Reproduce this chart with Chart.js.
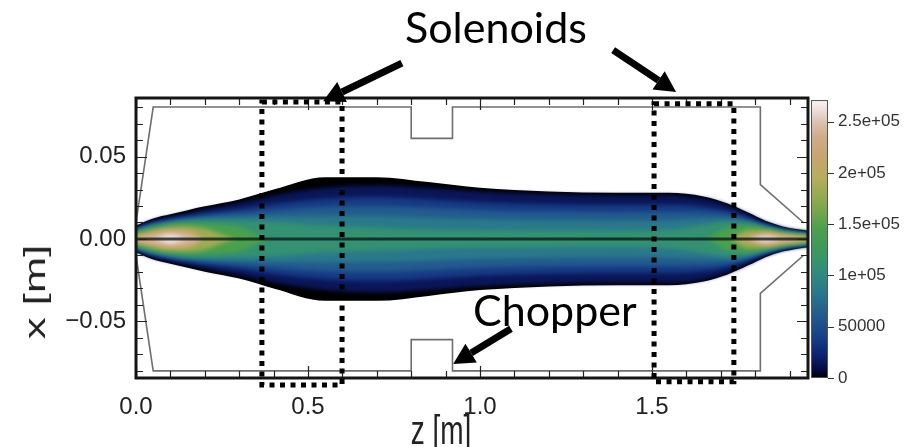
<!DOCTYPE html>
<html>
<head>
<meta charset="utf-8">
<script src="https://cdn.jsdelivr.net/npm/chart.js@4.4.1/dist/chart.umd.min.js"></script>
<style>
    html, body { margin: 0; padding: 0; background: #fff; }
    #wrap { position: relative; width: 911px; height: 447px; overflow: hidden; }
    #myChart { position: absolute; left: 0; top: 0; }
    .note { position: absolute; font-family: Lato, 'Open Sans', sans-serif; color: #000; white-space: nowrap; line-height: 1; }
    .axis-title { position: absolute; font-family: 'Liberation Sans', Arial, sans-serif; color: #222; white-space: nowrap; line-height: 1; }
</style>
</head>
<body>
<div id="wrap">
    <canvas id="myChart" width="911" height="447"></canvas>
    <div class="note" style="left:405px; top:5px; font-size:43px">Solenoids</div>
    <div class="note" style="left:473px; top:288px; font-size:43px">Chopper</div>
    <div class="axis-title" style="left:441px; top:431px; font-size:28px; transform: translate(-50%, -50%) scaleY(1.45)">z [m]</div>
    <div class="axis-title" style="left:35px; top:292px; font-size:30px; transform: translate(-50%, -50%) rotate(-90deg) scaleX(1.45)">x [m]</div>
</div>
<script>
// beam envelope: z [m] and half widths x [m] of each density contour
const zGrid = [0, 0.05, 0.1, 0.15, 0.2, 0.3, 0.4, 0.55, 0.7, 0.85, 1.0, 1.2, 1.4, 1.55, 1.65, 1.72, 1.78, 1.83, 1.88, 1.92, 1.953]
const haloWidth = [0.0082, 0.0125, 0.0150, 0.0175, 0.0198, 0.0240, 0.0300, 0.0375, 0.0375, 0.0345, 0.0310, 0.0288, 0.0280, 0.0280, 0.0258, 0.0215, 0.0160, 0.0110, 0.0076, 0.0060, 0.0052]
const w5k = [0.0072, 0.0112, 0.0136, 0.0158, 0.0180, 0.0218, 0.0262, 0.0310, 0.0325, 0.0310, 0.0287, 0.0272, 0.0266, 0.0265, 0.0245, 0.0205, 0.0150, 0.0100, 0.0066, 0.0050, 0.0042]
const w25k = [0.0063, 0.0099, 0.0121, 0.0140, 0.0156, 0.0182, 0.0212, 0.0244, 0.0254, 0.0241, 0.0223, 0.0211, 0.0207, 0.0207, 0.0196, 0.0171, 0.0130, 0.0089, 0.0059, 0.0044, 0.0037]
const w50k = [0.0057, 0.0091, 0.0112, 0.0128, 0.0140, 0.0157, 0.0175, 0.0195, 0.0200, 0.0189, 0.0175, 0.0166, 0.0162, 0.0163, 0.0160, 0.0148, 0.0117, 0.0082, 0.0054, 0.0040, 0.0033]
const w75k = [0.0051, 0.0083, 0.0103, 0.0117, 0.0125, 0.0133, 0.0138, 0.0141, 0.0140, 0.0130, 0.0120, 0.0114, 0.0111, 0.0114, 0.0122, 0.0125, 0.0105, 0.0075, 0.0049, 0.0037, 0.0030]
const w95k = [0.0047, 0.0077, 0.0096, 0.0108, 0.0113, 0.0112, 0.0103, 0.0082, 0.0070, 0.0057, 0.0053, 0.0050, 0.0049, 0.0057, 0.0085, 0.0105, 0.0095, 0.0070, 0.0046, 0.0034, 0.0027]
const w125k = [0.0040, 0.0068, 0.0086, 0.0095, 0.0093, 0.0074, 0, 0, 0, 0, 0, 0, 0, 0, 0, 0.0069, 0.0080, 0.0062, 0.0040, 0.0029, 0.0023]
const w165k = [0.0029, 0.0055, 0.0072, 0.0076, 0.0063, 0, 0, 0, 0, 0, 0, 0, 0, 0, 0, 0, 0.0055, 0.0052, 0.0033, 0.0023, 0.0017]
const w200k = [0.0016, 0.0042, 0.0057, 0.0056, 0, 0, 0, 0, 0, 0, 0, 0, 0, 0, 0, 0, 0.0019, 0.0041, 0.0025, 0.0016, 0.0009]
const w230k = [0, 0.0026, 0.0042, 0.0032, 0, 0, 0, 0, 0, 0, 0, 0, 0, 0, 0, 0, 0, 0.0029, 0.0015, 0.0006, 0]
const w255k = [0, 0, 0.0025, 0, 0, 0, 0, 0, 0, 0, 0, 0, 0, 0, 0, 0, 0, 0.0013, 0, 0, 0]
const contourLevels = [5000, 25000, 50000, 75000, 95000, 125000, 165000, 200000, 230000, 255000]
const contourWidths = [w5k, w25k, w50k, w75k, w95k, w125k, w165k, w200k, w230k, w255k]

// beam pipe outline (upper half, mirrored below)
const apertureZ = [0, 0.05, 0.80, 0.80, 0.92, 0.92, 1.815, 1.815, 1.94]
const apertureX = [0.010, 0.080, 0.080, 0.061, 0.061, 0.080, 0.080, 0.033, 0.010]

// axes
const zMax = 1.9535
const xMin = -0.0843
const xMax = 0.0855
const cbMax = 271000
const cbTickValues = [0, 50000, 100000, 150000, 200000, 250000]
const cbTickLabels = ['0', '50000', '1e+05', '1.5e+05', '2e+05', '2.5e+05']

// colour map of the colour bar
const cmapValues = [0, 8000, 20000, 40000, 60000, 80000, 100000, 120000, 145000, 170000, 195000, 215000, 235000, 250000, 262000, 271000]
const cmapColors = ['#000000', '#060a3c', '#0c1f6e', '#183f88', '#21598e', '#29738e', '#2e8a80', '#399863', '#4aa04c', '#86a94c', '#b6ae5c', '#c6a56e', '#cfab88', '#dcc3b4', '#efe0dc', '#fbf5f5']

// annotations (z, x)
const solenoidZ = [[0.366, 0.599], [1.506, 1.738]]
const solenoidX = [[0.083, -0.0885], [0.082, -0.0865]]
const arrowFrom = [[0.773, 0.1067], [1.387, 0.1145], [1.090, -0.0545]]
const arrowTo = [[0.544, 0.0836], [1.570, 0.0891], [0.922, -0.0758]]

const tickFont = "'Liberation Sans', Arial, sans-serif"

const hexToRgb = (h) => [1, 3, 5].map((i) => parseInt(h.substr(i, 2), 16))
const cmap = (v) => {
    let i = 0
    while (i < cmapValues.length - 2 && v > cmapValues[i + 1]) i++
    const t = Math.min(1, Math.max(0, (v - cmapValues[i]) / (cmapValues[i + 1] - cmapValues[i])))
    const a = hexToRgb(cmapColors[i])
    const b = hexToRgb(cmapColors[i + 1])
    return `rgb(${a.map((c, k) => Math.round(c + (b[k] - c) * t)).join(',')})`
}

const datasets = []
const addBand = (widths, color, order, blur) => {
    const lowerIndex = datasets.length + 1
    const common = { borderWidth: 0, pointRadius: 0, order: order, blur: blur, cubicInterpolationMode: 'monotone' }
    datasets.push({ ...common, data: zGrid.map((z, i) => ({ x: z, y: widths[i] })), fill: lowerIndex, backgroundColor: color })
    datasets.push({ ...common, data: zGrid.map((z, i) => ({ x: z, y: -widths[i] })), fill: false })
}

addBand(haloWidth, '#000000', 200, 0)
contourWidths.forEach((w, i) => {
    const next = contourLevels[i + 1] !== undefined ? contourLevels[i + 1] : 275000
    addBand(w, cmap((contourLevels[i] + next) / 2), 199 - i, 2.2)
})

datasets.push({
    data: apertureZ.map((z, i) => ({ x: z, y: apertureX[i] })),
    borderColor: '#6e6e6e', borderWidth: 1.6, pointRadius: 0, fill: false, order: 3,
})
datasets.push({
    data: apertureZ.map((z, i) => ({ x: z, y: -apertureX[i] })),
    borderColor: '#6e6e6e', borderWidth: 1.6, pointRadius: 0, fill: false, order: 3,
})
datasets.push({
    data: [{ x: 0, y: 0 }, { x: zMax, y: 0 }],
    borderColor: 'rgba(15, 25, 25, 0.8)', borderWidth: 3, pointRadius: 0, fill: false, order: 1,
})

// blur only the density bands so the contour steps look like a smooth map
const applyBlur = (chart, meta) => {
    const blur = meta ? chart.data.datasets[meta.index].blur : 0
    chart.ctx.filter = blur ? `blur(${blur}px)` : 'none'
}
const bandBlur = {
    id: 'bandBlur',
    beforeDatasetsDraw(chart) {
        const metas = chart.getSortedVisibleDatasetMetas()
        chart.ctx.save()
        applyBlur(chart, metas[metas.length - 1])
    },
    afterDatasetDraw(chart, args) {
        const metas = chart.getSortedVisibleDatasetMetas()
        applyBlur(chart, metas[metas.indexOf(args.meta) - 1])
    },
    afterDatasetsDraw(chart) {
        chart.ctx.filter = 'none'
        chart.ctx.restore()
    },
}

const drawArrow = (ctx, x0, y0, x1, y1) => {
    const ang = Math.atan2(y1 - y0, x1 - x0)
    const headLen = 21
    const headW = 11
    const bx = x1 - headLen * Math.cos(ang)
    const by = y1 - headLen * Math.sin(ang)
    ctx.beginPath()
    ctx.lineWidth = 7
    ctx.lineCap = 'butt'
    ctx.moveTo(x0, y0)
    ctx.lineTo(bx, by)
    ctx.stroke()
    ctx.beginPath()
    ctx.moveTo(x1, y1)
    ctx.lineTo(bx + headW * Math.sin(ang), by - headW * Math.cos(ang))
    ctx.lineTo(bx - headW * Math.sin(ang), by + headW * Math.cos(ang))
    ctx.closePath()
    ctx.fill()
}

const decorations = {
    id: 'decorations',
    afterDraw(chart) {
        const { ctx, chartArea: a } = chart
        const { x, y, cb } = chart.scales
        ctx.save()

        // colour bar
        const cbTop = cb.getPixelForValue(cbMax)
        const cbBottom = cb.getPixelForValue(0)
        const grad = ctx.createLinearGradient(0, cbBottom, 0, cbTop)
        cmapValues.forEach((v, i) => grad.addColorStop(v / cbMax, cmapColors[i]))
        ctx.fillStyle = grad
        ctx.fillRect(a.right + 3, cbTop, 17, cbBottom - cbTop)
        ctx.strokeStyle = '#555'
        ctx.lineWidth = 1
        ctx.strokeRect(a.right + 3.5, cbTop + 0.5, 16, cbBottom - cbTop - 1)
        ctx.beginPath()
        cbTickValues.forEach((v) => {
            const py = Math.round(cb.getPixelForValue(v)) + 0.5
            ctx.moveTo(a.right + 20, py)
            ctx.lineTo(a.right + 26, py)
        })
        ctx.strokeStyle = '#333'
        ctx.stroke()

        // frame ticks, pointing inwards
        ctx.beginPath()
        ctx.strokeStyle = '#222'
        ctx.lineWidth = 1.2
        for (let k = 0; k * 0.1 <= zMax; k++) {
            const px = Math.round(x.getPixelForValue(k * 0.1)) + 0.5
            const len = k % 5 === 0 ? 12 : 7
            ctx.moveTo(px, a.bottom)
            ctx.lineTo(px, a.bottom - len)
            ctx.moveTo(px, a.top)
            ctx.lineTo(px, a.top + len)
        }
        for (let k = -8; k <= 8; k++) {
            const py = Math.round(y.getPixelForValue(k * 0.01)) + 0.5
            const len = k % 5 === 0 ? 11 : 7
            ctx.moveTo(a.left, py)
            ctx.lineTo(a.left + len, py)
            ctx.moveTo(a.right, py)
            ctx.lineTo(a.right - len, py)
        }
        ctx.stroke()

        // frame
        ctx.strokeStyle = '#151515'
        ctx.lineWidth = 3
        ctx.strokeRect(a.left, a.top, a.right - a.left, a.bottom - a.top)

        // dotted solenoid boxes
        ctx.strokeStyle = '#000'
        ctx.lineWidth = 5
        ctx.setLineDash([5, 5.5])
        solenoidZ.forEach((zr, i) => {
            const x0 = x.getPixelForValue(zr[0])
            const x1 = x.getPixelForValue(zr[1])
            const y0 = y.getPixelForValue(solenoidX[i][0])
            const y1 = y.getPixelForValue(solenoidX[i][1])
            ctx.strokeRect(x0, y0, x1 - x0, y1 - y0)
        })
        ctx.setLineDash([])

        // arrows
        ctx.fillStyle = '#000'
        arrowFrom.forEach((p, i) => {
            drawArrow(ctx, x.getPixelForValue(p[0]), y.getPixelForValue(p[1]),
                x.getPixelForValue(arrowTo[i][0]), y.getPixelForValue(arrowTo[i][1]))
        })
        ctx.restore()
    },
}

const ctx = document.getElementById('myChart')
const myChart = new Chart(ctx, {
    type: 'line',
    data: { datasets: datasets },
    options: {
        responsive: false,
        devicePixelRatio: 1,
        animation: false,
        layout: { padding: { top: 98, left: 0, right: 0, bottom: 0 } },
        plugins: {
            legend: { display: false },
            tooltip: { enabled: false },
        },
        scales: {
            x: {
                type: 'linear',
                min: 0,
                max: zMax,
                grid: { display: false, drawTicks: false },
                border: { display: false },
                ticks: {
                    stepSize: 0.5,
                    includeBounds: false,
                    autoSkip: false,
                    maxRotation: 0,
                    padding: 15,
                    color: '#222',
                    font: { family: tickFont, size: 24 },
                    callback: (v) => Number(v).toFixed(1),
                },
                afterFit: (scale) => { scale.height = 69 },
            },
            y: {
                type: 'linear',
                position: 'left',
                min: xMin,
                max: xMax,
                grid: { display: false, drawTicks: false },
                border: { display: false },
                ticks: {
                    stepSize: 0.05,
                    includeBounds: false,
                    padding: 10,
                    color: '#222',
                    font: { family: tickFont, size: 24 },
                    callback: (v) => (v < -1e-9 ? '\u2212' : '') + Math.abs(v).toFixed(2),
                },
                afterFit: (scale) => { scale.width = 136 },
            },
            cb: {
                type: 'linear',
                position: 'right',
                min: 0,
                max: 273000,
                grid: { display: false, drawTicks: false },
                border: { display: false },
                afterBuildTicks: (scale) => { scale.ticks = cbTickValues.map((v) => ({ value: v })) },
                ticks: {
                    padding: 30,
                    color: '#333',
                    font: { family: tickFont, size: 17 },
                    callback: (v) => cbTickLabels[cbTickValues.indexOf(v)],
                },
                afterFit: (scale) => { scale.width = 103 },
            },
        },
    },
    plugins: [bandBlur, decorations],
})
</script>
</body>
</html>
